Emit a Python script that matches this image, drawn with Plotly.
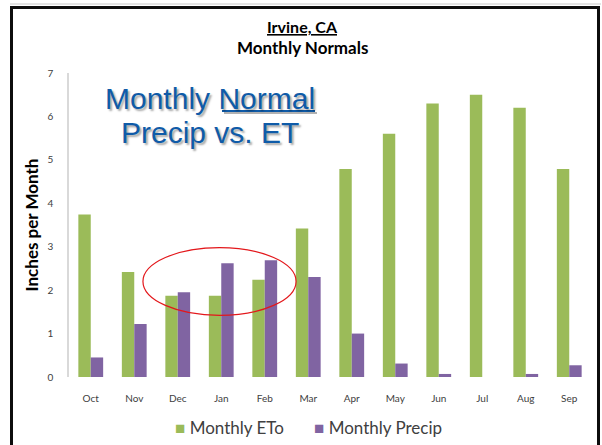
import plotly.graph_objects as go

# Monthly normals for Irvine, CA (water year order)
months = ["Oct", "Nov", "Dec", "Jan", "Feb", "Mar", "Apr", "May", "Jun", "Jul", "Aug", "Sep"]
eto = [3.74, 2.42, 1.87, 1.87, 2.24, 3.42, 4.79, 5.60, 6.30, 6.50, 6.20, 4.79]
precip = [0.45, 1.22, 1.95, 2.62, 2.69, 2.30, 1.00, 0.31, 0.07, 0.00, 0.07, 0.27]
series_names = ["Monthly ETo", "Monthly Precip"]
series_colors = ["#9BBB59", "#8064A2"]

W, H = 602, 445
ML, MR, MT, MB = 69, 11, 73, 68
PW, PH = W - ML - MR, H - MT - MB


def px(x):
    return (x - ML) / PW


def py(y):
    return (H - MB - y) / PH


fig = go.Figure()
for name, vals, col in zip(series_names, [eto, precip], series_colors):
    fig.add_trace(go.Bar(x=months, y=vals, name=name, marker=dict(color=col, line=dict(width=0)),
                         showlegend=False))

base_font = "Lato, Carlito, 'Open Sans', sans-serif"

fig.update_layout(
    width=W, height=H,
    margin=dict(l=ML, r=MR, t=MT, b=MB),
    paper_bgcolor="white", plot_bgcolor="white",
    barmode="group", bargap=0.43, bargroupgap=0,
    font=dict(family=base_font, color="#404040"),
    xaxis=dict(showgrid=False, showline=False, zeroline=False, ticks="",
               tickfont=dict(size=10, color="#404040"), ticklabelstandoff=14),
    yaxis=dict(range=[0, 7], dtick=1, showgrid=False, zeroline=False,
               showline=True, linecolor="#d9d9d9", linewidth=1.5, ticks="",
               tickfont=dict(size=10, color="#404040"), ticklabelstandoff=12,
               title=dict(text="<b>Inches per Month</b>", font=dict(size=17, color="#000"),
                          standoff=4)),
)

ann = []
# chart titles
ann.append(dict(text="<b><span style='text-decoration:underline'>Irvine, CA</span></b>",
                x=px(302), y=py(26), xref="paper", yref="paper", showarrow=False,
                font=dict(size=16, color="#000"), xanchor="center", yanchor="middle"))
ann.append(dict(text="<b>Monthly Normals</b>", x=px(302), y=py(47), xref="paper", yref="paper",
                showarrow=False, font=dict(size=17, color="#000"),
                xanchor="center", yanchor="middle"))
# overlay caption
cap_font = dict(family="Liberation Sans, Arial, sans-serif", size=30, color="#0F5BA8",
                shadow="2px 2px 2px rgba(0,0,0,0.35)")
ann.append(dict(text="Monthly Normal",
                x=px(210), y=py(98), xref="paper", yref="paper", showarrow=False,
                font=cap_font, xanchor="center", yanchor="middle"))
ann.append(dict(text="Precip vs. ET", x=px(210), y=py(132), xref="paper", yref="paper",
                showarrow=False, font=cap_font, xanchor="center", yanchor="middle"))
# legend entries
leg_x = [173, 312]
for lx, name, col in zip(leg_x, series_names, series_colors):
    ann.append(dict(text=f"<span style='color:{col}'>■</span> {name}",
                    x=px(lx), y=py(428), xref="paper", yref="paper", showarrow=False,
                    font=dict(size=17, color="#404040"), xanchor="left", yanchor="middle"))
fig.update_layout(annotations=ann)

shapes = []
# underline beneath "Normal" (shadow, then line)
shapes.append(dict(type="line", xref="paper", yref="paper", x0=px(224), x1=px(317),
                   y0=py(113), y1=py(113), line=dict(color="rgba(0,0,0,0.3)", width=2)))
shapes.append(dict(type="line", xref="paper", yref="paper", x0=px(222), x1=px(315),
                   y0=py(111), y1=py(111), line=dict(color="#0F5BA8", width=2)))
# highlight ellipse around the winter months
shapes.append(dict(type="circle", xref="x", yref="y", x0=1.2, x1=4.72, y0=1.42, y1=2.98,
                   line=dict(color="#E3171B", width=1.2)))
# slide frame
shapes.append(dict(type="line", xref="paper", yref="paper", x0=px(10), x1=px(601),
                   y0=py(4), y1=py(4), line=dict(color="#c8c8c8", width=1)))
shapes.append(dict(type="path", xref="paper", yref="paper",
                   path=f"M {px(11.5)} {py(450)} L {px(11.5)} {py(7.5)} L {px(598.5)} {py(7.5)} L {px(598.5)} {py(450)}",
                   line=dict(color="#0d0d0d", width=3)))
fig.update_layout(shapes=shapes)

fig.write_html("out.html")
